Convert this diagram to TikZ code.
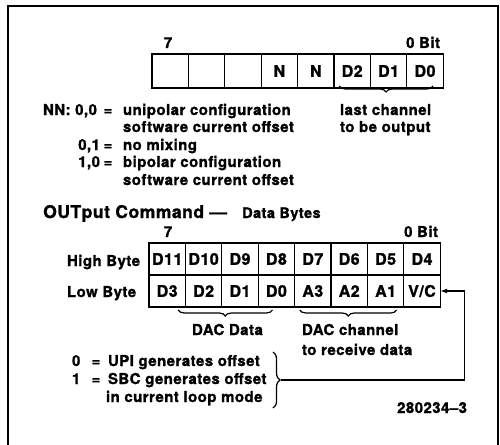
\documentclass[tikz,border=0pt]{standalone}
\usepackage{fontspec}
\setmainfont{TeX Gyre Heros}[LetterSpace=3, BoldFeatures={FakeBold=1.2}]
\usetikzlibrary{decorations.pathreplacing,arrows.meta}
\tikzset{
  txt/.style={font=\fontsize{15}{17}\selectfont\bfseries, inner sep=0pt, outer sep=0pt},
  big/.style={font=\fontsize{17.5}{19}\selectfont\bfseries, inner sep=0pt},
  small/.style={font=\fontsize{14.5}{16}\selectfont\bfseries, inner sep=0pt},
  cellbox/.style={draw, line width=1.3pt, minimum width=36.4pt, minimum height=#1, inner sep=0pt, outer sep=0pt,
    font=\fontsize{16}{18}\selectfont\bfseries},
  bracedown/.style={decorate, decoration={brace, mirror, amplitude=6pt}, line width=1.2pt},
  braceright/.style={decorate, decoration={brace, amplitude=7pt}, line width=1.2pt},
  frame/.style={line width=1.5pt},
  conn/.style={line width=1.2pt, -{Latex[length=7pt,width=5pt]}}
}
\begin{document}
\begin{tikzpicture}[x=1pt,y=-1pt]
\useasboundingbox (0,0) rectangle (500,444);
\draw[frame] (8,460) -- (8,6) -- (498,6) -- (498,460);

% top register
\foreach \t [count=\i] in {{},{},{},N,N,D2,D1,D0}
  \node[cellbox=34pt] (t\i) at ({152+(\i-0.5)*36.4},71) {\t};
\node[txt, anchor=base] (t7lbl) at (168,48) {7};
\node[txt, anchor=base east] (t0lbl) at (440,48) {0 Bit};
\draw[bracedown] ([xshift=-13pt,yshift=2pt]t6.south) -- ([xshift=8pt,yshift=2pt]t8.south);
\node[txt, anchor=base west] (lc1) at (340,115) {last channel};
\node[txt, anchor=base west] (lc2) at (340,132) {to be output};

% NN legend
\node[txt, anchor=base west] (nn) at (43,115) {NN: 0,0};
\node[txt, anchor=base] (eq1) at (108,115) {=};
\node[txt, anchor=base west] (nn1) at (123,115) {unipolar configuration};
\node[txt, anchor=base west] (nn1b) at (123,132) {software current offset};
\node[txt, anchor=base east] (v01) at (100,150) {0,1};
\node[txt, anchor=base] (eq2) at (108,150) {=};
\node[txt, anchor=base west] (nn2) at (123,150) {no mixing};
\node[txt, anchor=base east] (v10) at (100,167) {1,0};
\node[txt, anchor=base] (eq3) at (108,167) {=};
\node[txt, anchor=base west] (nn3) at (123,167) {bipolar configuration};
\node[txt, anchor=base west] (nn3b) at (123,185) {software current offset};

% OUTput command
\node[big, anchor=base west] (oc) at (43,218) {OUTput Command —};
\node[small, anchor=base west] (db) at (242,218) {Data Bytes};
\node[txt, anchor=base] (b7lbl) at (168,237) {7};
\node[txt, anchor=base east] (b0lbl) at (438,237) {0 Bit};

\foreach \t [count=\i] in {D11,D10,D9,D8,D7,D6,D5,D4}
  \node[cellbox=32pt] (h\i) at ({149+(\i-0.5)*36.4},259) {\t};
\foreach \t [count=\i] in {D3,D2,D1,D0,A3,A2,A1,V/C}
  \node[cellbox=32pt] (l\i) at ({149+(\i-0.5)*36.4},291) {\t};
\node[txt, anchor=base west] (hb) at (67,266) {High Byte};
\node[txt, anchor=base west] (lb) at (67,297) {Low Byte};

\draw[bracedown] ([xshift=11pt,yshift=-3pt]l1.south) -- ([xshift=-4pt,yshift=-3pt]l4.south);
\draw[bracedown] ([xshift=-13pt,yshift=-3pt]l5.south) -- ([xshift=11pt,yshift=-3pt]l7.south);
\node[txt, anchor=base west] (dd) at (192,335) {DAC Data};
\node[txt, anchor=base west] (dc1) at (302,335) {DAC channel};
\node[txt, anchor=base west] (dc2) at (302,355) {to receive data};

% V/C legend
\node[txt, anchor=base west] (z0) at (72,366) {0};
\node[txt, anchor=base] (eq4) at (96,366) {=};
\node[txt, anchor=base west] (z0t) at (108,366) {UPI generates offset};
\node[txt, anchor=base west] (z1) at (72,384) {1};
\node[txt, anchor=base] (eq5) at (96,384) {=};
\node[txt, anchor=base west] (z1t) at (108,384) {SBC generates offset};
\node[txt, anchor=base west] (z1u) at (106,402) {in current loop mode};
\coordinate (btop) at (273,352);
\coordinate (bbot) at (273,408);
\draw[braceright] (btop) -- (bbot);
\coordinate (btip) at (281,380);
\draw[conn] (btip) -| ([xshift=24pt]l8.east) -- (l8.east);

\node[txt, anchor=base east] (fig) at (467,413) {280234–3};
\end{tikzpicture}
\end{document}
